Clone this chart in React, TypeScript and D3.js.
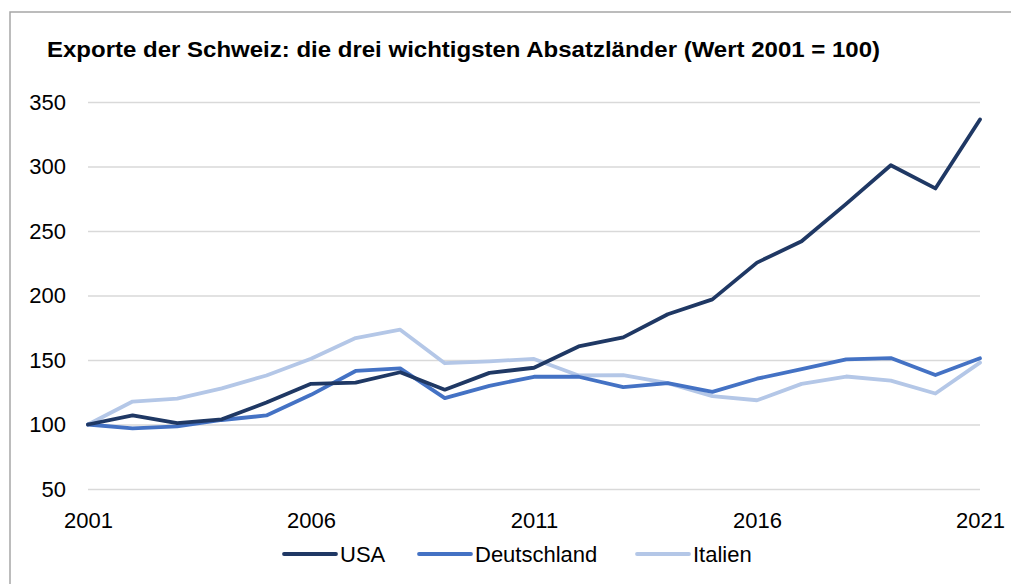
import React, { useEffect, useRef } from "react";
import * as d3 from "d3";

const years = d3.range(2001, 2022);
const usa = [100, 107, 101, 104, 117, 131.5, 132.5, 140.5, 127, 140, 144, 160.5, 167.5, 185.5, 197, 225.5, 242, 271, 301, 283, 336.5];
const deutschland = [100, 97, 98.5, 103.5, 107, 123, 141.5, 143.5, 120.5, 130, 137, 137, 129, 132, 125.3, 135.5, 143, 150.5, 151.5, 138.3, 151.3];
const italien = [100, 117.8, 120, 128, 138, 151, 167, 173.5, 147.5, 149, 150.8, 138, 138.2, 132, 122, 118.8, 131.5, 137.2, 134, 124, 148];
const yTicks = [50, 100, 150, 200, 250, 300, 350];
const xTicks = [2001, 2006, 2011, 2016, 2021];
const seriesNames = ["USA", "Deutschland", "Italien"];
const seriesColors = ["#1f3864", "#4472c4", "#b4c7e7"];

export default function App() {
  const ref = useRef<SVGSVGElement>(null);

  useEffect(() => {
    const svg = d3.select(ref.current);
    svg.selectAll("*").remove();

    const font = "'Liberation Sans', Arial, sans-serif";

    // outer frame (only top and left edges are visible)
    svg
      .append("rect")
      .attr("x", 10)
      .attr("y", 12)
      .attr("width", 1100)
      .attr("height", 700)
      .attr("fill", "white")
      .attr("stroke", "#a6a6a6")
      .attr("stroke-width", 1.5);

    svg
      .append("text")
      .attr("x", 47)
      .attr("y", 57)
      .attr("font-family", font)
      .attr("font-size", 22)
      .attr("font-weight", "bold")
      .attr("textLength", 833)
      .attr("lengthAdjust", "spacingAndGlyphs")
      .attr("fill", "#000")
      .text("Exporte der Schweiz: die drei wichtigsten Absatzländer (Wert 2001 = 100)");

    const x = d3.scaleLinear().domain([2001, 2021]).range([88, 980]);
    const y = d3.scaleLinear().domain([50, 350]).range([489, 102]);

    const yAxis = d3
      .axisLeft(y)
      .tickValues(yTicks)
      .tickSize(-(980 - 88))
      .tickPadding(22);

    svg
      .append("g")
      .attr("transform", "translate(88,0)")
      .call(yAxis)
      .call((g) => g.select(".domain").remove())
      .call((g) => g.selectAll(".tick line").attr("stroke", "#d9d9d9").attr("stroke-width", 1.5))
      .call((g) =>
        g
          .selectAll(".tick text")
          .attr("font-family", font)
          .attr("font-size", 22)
          .attr("fill", "#000")
      );

    const xAxis = d3
      .axisBottom(x)
      .tickValues(xTicks)
      .tickFormat(d3.format("d"))
      .tickSize(0)
      .tickPadding(0);

    svg
      .append("g")
      .attr("transform", "translate(0,512)")
      .call(xAxis)
      .call((g) => g.select(".domain").remove())
      .call((g) =>
        g
          .selectAll(".tick text")
          .attr("font-family", font)
          .attr("font-size", 22)
          .attr("fill", "#000")
      );

    const line = d3
      .line<number>()
      .x((d, i) => x(years[i]))
      .y((d) => y(d));

    const allSeries = [usa, deutschland, italien];
    // lightest first so the darker lines sit on top
    [2, 1, 0].forEach((k) => {
      svg
        .append("path")
        .attr("fill", "none")
        .attr("stroke", seriesColors[k])
        .attr("stroke-width", 3.8)
        .attr("stroke-linejoin", "round")
        .attr("stroke-linecap", "round")
        .attr("d", line(allSeries[k]));
    });

    // legend
    const legendX = [284, 419, 637];
    const legend = svg.append("g");
    seriesNames.forEach((name, k) => {
      legend
        .append("line")
        .attr("x1", legendX[k])
        .attr("x2", legendX[k] + 52)
        .attr("y1", 554)
        .attr("y2", 554)
        .attr("stroke", seriesColors[k])
        .attr("stroke-width", 3.8)
        .attr("stroke-linecap", "round");
      legend
        .append("text")
        .attr("x", legendX[k] + 56)
        .attr("y", 562)
        .attr("font-family", font)
        .attr("font-size", 22)
        .attr("fill", "#000")
        .text(name);
    });
  }, []);

  return (
    <div style={{ position: "absolute", left: 0, top: 0 }}>
      <svg ref={ref} width={1011} height={584} style={{ display: "block" }} />
    </div>
  );
}
